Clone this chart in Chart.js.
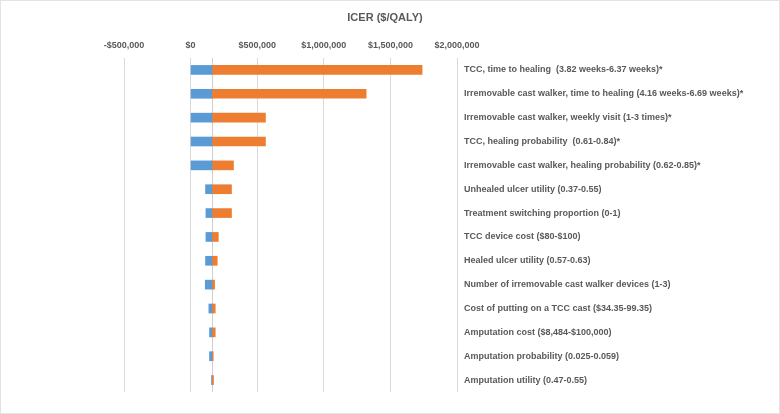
<!DOCTYPE html>
<html>
<head>
<meta charset="utf-8">
<script src="https://cdn.jsdelivr.net/npm/chart.js@4.4.1/dist/chart.umd.min.js"></script>
<style>
  html, body { margin: 0; padding: 0; background: #fff; }
  #wrap { position: relative; width: 780px; height: 414px; box-sizing: border-box; border: 1px solid #e3e3e3; }
  canvas { display: block; }
</style>
</head>
<body>
<div id="wrap"><canvas id="c" width="778" height="412"></canvas></div>
<script>
const categories = [
  "TCC, time to healing  (3.82 weeks-6.37 weeks)*",
  "Irremovable cast walker, time to healing (4.16 weeks-6.69 weeks)*",
  "Irremovable cast walker, weekly visit (1-3 times)*",
  "TCC, healing probability  (0.61-0.84)*",
  "Irremovable cast walker, healing probability (0.62-0.85)*",
  "Unhealed ulcer utility (0.37-0.55)",
  "Treatment switching proportion (0-1)",
  "TCC device cost ($80-$100)",
  "Healed ulcer utility (0.57-0.63)",
  "Number of irremovable cast walker devices (1-3)",
  "Cost of putting on a TCC cast ($34.35-99.35)",
  "Amputation cost ($8,484-$100,000)",
  "Amputation probability (0.025-0.059)",
  "Amputation utility (0.47-0.55)"
];
const baseICER = 160000;
const lowValues  = [0, 0, 0, 0, 0, 112000, 115000, 115000, 112000, 110000, 137000, 142000, 142000, 158000];
const highValues = [1738000, 1318000, 562000, 562000, 322000, 307000, 307000, 208000, 200000, 180000, 185000, 185000, 170000, 172000];
const xTicks = [-500000, 0, 500000, 1000000, 1500000, 2000000];

const fmt = v => (v < 0 ? "-$" : "$") + Math.abs(v).toLocaleString("en-US");
const txt = "#595959";
const grid = "#d9d9d9";
const fam = "'Liberation Sans', Arial, sans-serif";

const baseLine = {
  id: "baseLine",
  beforeDatasetsDraw(chart) {
    const x = chart.scales.x, a = chart.chartArea, ctx = chart.ctx;
    const px = Math.round(x.getPixelForValue(baseICER)) + 0.5;
    ctx.save();
    ctx.strokeStyle = "#cfcfcf";
    ctx.lineWidth = 1;
    ctx.beginPath();
    ctx.moveTo(px, a.top);
    ctx.lineTo(px, a.bottom);
    ctx.stroke();
    ctx.restore();
  }
};

new Chart(document.getElementById("c"), {
  type: "bar",
  data: {
    labels: categories,
    datasets: [
      { label: "Low", data: lowValues.map(v => [v, baseICER]), backgroundColor: "#5B9BD5", barThickness: 9, grouped: false },
      { label: "High", data: highValues.map(v => [baseICER, v]), backgroundColor: "#ED7D31", barThickness: 9, grouped: false }
    ]
  },
  plugins: [baseLine],
  options: {
    indexAxis: "y",
    responsive: false,
    animation: false,
    layout: { padding: { left: 0, right: 10, top: 0, bottom: 21 } },
    plugins: {
      legend: { display: false },
      tooltip: { enabled: false },
      title: {
        display: true,
        text: "ICER ($/QALY)",
        color: txt,
        font: { family: fam, size: 11, weight: "bold" },
        padding: { top: 10, bottom: 9 }
      }
    },
    scales: {
      x: {
        position: "top",
        min: -500000,
        max: 2000000,
        afterBuildTicks: s => { s.ticks = xTicks.map(v => ({ value: v })); },
        ticks: {
          color: txt,
          font: { family: fam, size: 9, weight: "bold" },
          padding: 7,
          callback: v => fmt(v)
        },
        grid: { color: grid, drawTicks: false },
        border: { display: false }
      },
      y: {
        position: "right",
        afterFit: s => { s.width = 312; },
        ticks: {
          color: txt,
          crossAlign: "near",
          padding: 7,
          autoSkip: false,
          font: { family: fam, size: 9, weight: "bold" }
        },
        grid: { display: false, drawTicks: false },
        border: { display: false }
      },
      yLeft: {
        type: "category",
        position: "left",
        afterFit: s => { s.width = 123; },
        ticks: { display: false },
        grid: { display: false, drawTicks: false },
        border: { display: false }
      }
    }
  }
});
</script>
</body>
</html>
